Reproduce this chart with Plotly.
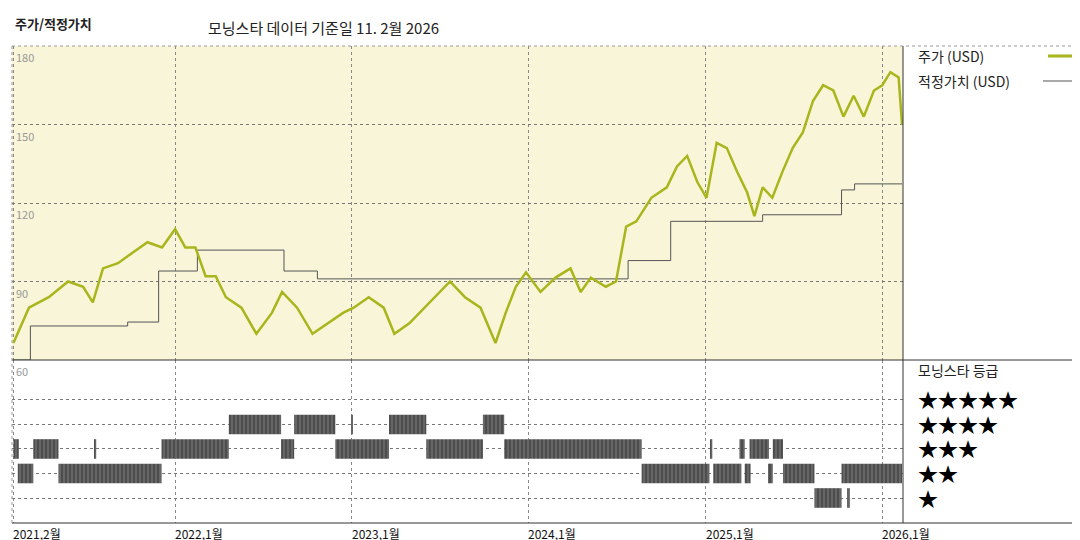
import plotly.graph_objects as go
import pandas as pd

price_dates = ["2021-02-01","2021-03-05","2021-04-15","2021-05-25","2021-06-25","2021-07-15","2021-08-05","2021-09-05","2021-10-05","2021-11-05","2021-12-05","2022-01-01","2022-01-22","2022-02-12","2022-03-05","2022-03-26","2022-04-16","2022-05-18","2022-06-18","2022-07-20","2022-08-10","2022-09-10","2022-10-12","2022-11-12","2022-12-14","2023-01-05","2023-02-05","2023-03-08","2023-03-30","2023-04-30","2023-06-01","2023-07-02","2023-07-23","2023-08-23","2023-09-24","2023-10-25","2023-11-15","2023-12-06","2023-12-27","2024-01-26","2024-02-26","2024-03-28","2024-04-18","2024-05-09","2024-06-09","2024-06-30","2024-07-21","2024-08-11","2024-09-11","2024-10-13","2024-11-03","2024-11-24","2024-12-15","2025-01-03","2025-01-24","2025-02-14","2025-03-07","2025-03-28","2025-04-12","2025-04-29","2025-05-19","2025-06-09","2025-06-30","2025-07-21","2025-08-11","2025-09-01","2025-09-22","2025-10-13","2025-11-03","2025-11-24","2025-12-15","2026-01-01","2026-01-18","2026-02-04","2026-02-11"]
price_vals = [66.5,80,84,90,88,82,95,97,101,105,103,110,103,103,92,92,84,80,70,78,86,80,70,74,78,80,84,80,70,74,80,86,90,84,80,66.5,78,88,93.5,86,91.5,95,86,91.5,88,90,111,113,122,126,134,138,128,122,143,141,132,124,115,126,122,132,141,147,159,165,163,153,161,153,163,165,170,168,150]

fv_dates = ["2021-02-01","2021-03-08","2021-09-25","2021-11-28","2022-02-16","2022-08-14","2022-10-22","2024-07-25","2024-10-21","2025-04-29","2025-10-09","2025-11-05","2026-02-11"]
fv_vals = [60,73,74.5,94,102,94,91,98,113,115.5,125,127.3,127.3]

rating_rows = [4,4,4,4,4,
               3,3,3,3,3,3,3,3,3,3,3,3,
               2,2,2,2,2,2,2,2,
               1,1]
rating_start = ["2022-04-22","2022-09-04","2022-12-31","2023-03-19","2023-09-29",
                "2021-02-01","2021-03-14","2021-07-18","2021-12-04","2022-08-08","2022-11-28","2023-06-04","2023-11-12","2025-01-11","2025-03-12","2025-04-02","2025-05-20",
                "2021-02-10","2021-05-05","2024-08-22","2025-01-17","2025-03-23","2025-05-10","2025-06-10","2025-10-09",
                "2025-08-14","2025-10-22"]
rating_end = ["2022-08-08","2022-11-28","2023-01-03","2023-06-04","2023-11-12",
              "2021-02-12","2021-05-05","2021-07-22","2022-04-22","2022-09-04","2023-03-19","2023-09-29","2024-08-22","2025-01-15","2025-03-23","2025-05-12","2025-06-10",
              "2021-03-14","2021-12-04","2025-01-09","2025-03-16","2025-04-04","2025-05-20","2025-08-14","2026-02-11",
              "2025-10-09","2025-10-26"]

year_ticks = ["2021-02-01","2022-01-01","2023-01-01","2024-01-01","2025-01-01","2026-01-01"]
year_labels = ["2021,2월","2022,1월","2023,1월","2024,1월","2025,1월","2026,1월"]
price_ticks = [60,90,120,150,180]
star_labels = ["★★★★★","★★★★","★★★","★★","★"]
star_levels = [5,4,3,2,1]

FONT = "Noto Sans CJK KR"
X0, X1 = 4/1080, 895/1080
TOP = [1-352/540, 1-38/540]
BOT = [1-515/540, 1-352/540]

fig = go.Figure()
fig.add_trace(go.Scatter(x=fv_dates, y=fv_vals, mode="lines", line=dict(color="#555", width=1, shape="hv"),
                         xaxis="x2", yaxis="y2", hoverinfo="skip"))
fig.add_trace(go.Scatter(x=price_dates, y=price_vals, mode="lines", line=dict(color="#a9b51c", width=2.5),
                         xaxis="x2", yaxis="y2"))
dur = [(pd.Timestamp(e)-pd.Timestamp(s)).total_seconds()*1000 for s, e in zip(rating_start, rating_end)]
fig.add_trace(go.Bar(y=rating_rows, x=dur, base=rating_start, orientation="h", width=0.8,
                     marker=dict(color="#666", line=dict(width=0),
                                 pattern=dict(shape="|", fgcolor="#111", size=4, solidity=0.3)),
                     xaxis="x", yaxis="y"))

xr = ["2021-01-29", "2026-02-13"]
common_x = dict(range=xr, type="date", tickvals=year_ticks, showticklabels=False, showgrid=True,
                gridcolor="#888", griddash="dot", gridwidth=1, zeroline=False, domain=[X0, X1])
fig.update_layout(
    width=1080, height=540, margin=dict(l=0, r=0, t=0, b=0),
    paper_bgcolor="white", plot_bgcolor="rgba(0,0,0,0)", showlegend=False,
    font=dict(family=FONT, color="#222"), barmode="overlay",
    xaxis=dict(**common_x, anchor="y"),
    xaxis2=dict(**common_x, anchor="y2", matches="x"),
    yaxis=dict(domain=BOT, range=[-0.02, 6.63], tickvals=star_levels, showticklabels=False,
               showgrid=True, gridcolor="#777", griddash="dot", zeroline=False),
    yaxis2=dict(domain=TOP, range=[60, 180], tickvals=price_ticks, showticklabels=False,
                showgrid=True, gridcolor="#777", griddash="dot", zeroline=False),
)
shapes = [
    dict(type="rect", xref="paper", yref="paper", x0=X0, x1=X1, y0=TOP[0], y1=TOP[1],
         fillcolor="#f8f5d8", line=dict(width=0), layer="below"),
    dict(type="line", xref="paper", yref="paper", x0=X0, x1=1, y0=TOP[0], y1=TOP[0], line=dict(color="#333", width=1)),
    dict(type="line", xref="paper", yref="paper", x0=X0, x1=1, y0=BOT[0], y1=BOT[0], line=dict(color="#333", width=1)),
    dict(type="line", xref="paper", yref="paper", x0=X1, x1=X1, y0=BOT[0], y1=TOP[1], line=dict(color="#333", width=1)),
    dict(type="line", xref="paper", yref="paper", x0=X0, x1=1, y0=TOP[1], y1=TOP[1], line=dict(color="#999", width=1, dash="dot")),
    dict(type="line", xref="paper", yref="paper", x0=X0, x1=X0, y0=BOT[0], y1=TOP[1], line=dict(color="#999", width=1, dash="dot")),
    dict(type="line", xref="paper", yref="paper", x0=1040/1080, x1=1075/1080, y0=1-48/540, y1=1-48/540, line=dict(color="#a9b51c", width=3)),
    dict(type="line", xref="paper", yref="paper", x0=1035/1080, x1=1072/1080, y0=1-73/540, y1=1-73/540, line=dict(color="#555", width=1)),
]
fig.update_layout(shapes=shapes)

ann = []
for v in price_ticks:
    ann.append(dict(x=X0 + 2/1080, xref="paper", y=v, yref="y2", text=str(v), showarrow=False,
                    xanchor="left", yanchor="top", font=dict(size=11, color="#999"), yshift=-1))
for d, lab in zip(year_ticks, year_labels):
    ann.append(dict(x=d, xref="x", y=BOT[0], yref="paper", text=lab, showarrow=False,
                    xanchor="left", yanchor="top", font=dict(size=12, color="#111"), xshift=-2))
for lvl, s in zip(star_levels, star_labels):
    ann.append(dict(x=908/1080, xref="paper", y=lvl, yref="y", text=s, showarrow=False,
                    xanchor="left", yanchor="middle", font=dict(size=20, color="#000")))
ann += [
    dict(x=5/1080, y=1-15/540, xref="paper", yref="paper", text="<b>주가/적정가치</b>", showarrow=False,
         xanchor="left", yanchor="middle", font=dict(size=13)),
    dict(x=198/1080, y=1-20/540, xref="paper", yref="paper", text="모닝스타 데이터 기준일 11. 2월 2026", showarrow=False,
         xanchor="left", yanchor="middle", font=dict(size=15)),
    dict(x=908/1080, y=1-48/540, xref="paper", yref="paper", text="주가 (USD)", showarrow=False,
         xanchor="left", yanchor="middle", font=dict(size=14)),
    dict(x=908/1080, y=1-73/540, xref="paper", yref="paper", text="적정가치 (USD)", showarrow=False,
         xanchor="left", yanchor="middle", font=dict(size=14)),
    dict(x=908/1080, y=1-362/540, xref="paper", yref="paper", text="모닝스타 등급", showarrow=False,
         xanchor="left", yanchor="middle", font=dict(size=14)),
]
fig.update_layout(annotations=ann)
fig.write_html("out.html")
